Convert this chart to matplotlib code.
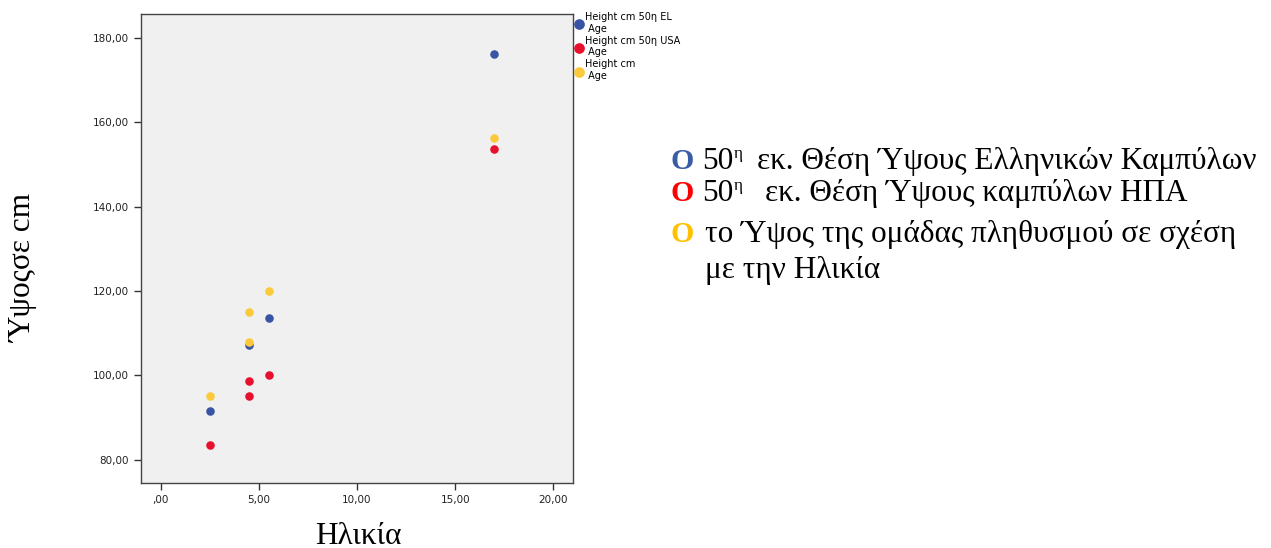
import matplotlib.pyplot as plt

# series: age (x) vs height in cm (y)
el_age = [2.5, 4.5, 5.5, 17]
el_height = [91.5, 107.2, 113.6, 176.2]

usa_age = [2.5, 4.5, 4.5, 5.5, 17]
usa_height = [83.6, 95.2, 98.7, 100.0, 153.6]

pop_age = [2.5, 4.5, 4.5, 5.5, 17]
pop_height = [95.2, 108.0, 115.0, 120.0, 156.2]

series_labels = ["Height cm 50η EL\n Age", "Height cm 50η USA\n Age", "Height cm\n Age"]
colors = ["#3a54a4", "#e8112d", "#fbc939"]

xticks = [0, 5, 10, 15, 20]
xticklabels = [",00", "5,00", "10,00", "15,00", "20,00"]
yticks = [80, 100, 120, 140, 160, 180]
yticklabels = ["80,00", "100,00", "120,00", "140,00", "160,00", "180,00"]

W, H = 1271, 548
fig = plt.figure(figsize=(W / 100, H / 100), dpi=100)
ax = fig.add_axes([141 / W, 1 - 483 / H, (573 - 141) / W, (483 - 14) / H])
ax.set_facecolor("#f0f0f0")

for xs, ys, c, lab in zip([el_age, usa_age, pop_age], [el_height, usa_height, pop_height], colors, series_labels):
    ax.scatter(xs, ys, s=38, color=c, label=lab, zorder=3, linewidths=0)

ax.set_xlim(-1.0, 21.0)
ax.set_ylim(74.5, 185.7)
ax.set_xticks(xticks)
ax.set_xticklabels(xticklabels, fontsize=7.5, color="#222222")
ax.set_yticks(yticks)
ax.set_yticklabels(yticklabels, fontsize=7.5, color="#222222")
ax.tick_params(direction="out", length=5, width=1, color="#333333")
for sp in ax.spines.values():
    sp.set_color("#444444")
    sp.set_linewidth(1)

leg = ax.legend(loc="upper left", bbox_to_anchor=(0.997, 1.008), frameon=False, fontsize=7,
                handletextpad=0.2, borderaxespad=0.0, labelspacing=0.2, markerscale=1.25,
                handlelength=1.0, borderpad=0.2)

serif = "Liberation Serif"
fig.text(358 / W, 1 - 536 / H, "Ηλικία", family=serif, fontsize=22.5, ha="center", va="center")
fig.text(24 / W, 1 - 268 / H, "Ύψοςσε cm", family=serif, fontsize=22.5, ha="center", va="center", rotation=90)


def px(x, y):
    return x / W, 1 - y / H


fs = 22.5
# (baseline y, marker colour, text, text x)
rows = [
    (169, "#3a5ba6", "εκ. Θέση Ύψους Ελληνικών Καμπύλων", 757),
    (201, "#ff0000", "εκ. Θέση Ύψους καμπύλων ΗΠΑ", 765),
    (242, "#ffc000", "το Ύψος της ομάδας πληθυσμού σε σχέση", 705),
]
for i, (y, c, txt, tx) in enumerate(rows):
    fig.text(*px(671, y), "O", family=serif, fontsize=fs - 1, fontweight="bold", color=c, va="baseline")
    if i < 2:
        fig.text(*px(702, y), "50", family=serif, fontsize=fs, va="baseline")
        fig.text(*px(734, y - 11), "η", family=serif, fontsize=12.5, va="baseline")
    fig.text(*px(tx, y), txt, family=serif, fontsize=fs, va="baseline")
fig.text(*px(705, 278), "με την Ηλικία", family=serif, fontsize=fs, va="baseline")

fig.savefig("out.png", dpi=100)
